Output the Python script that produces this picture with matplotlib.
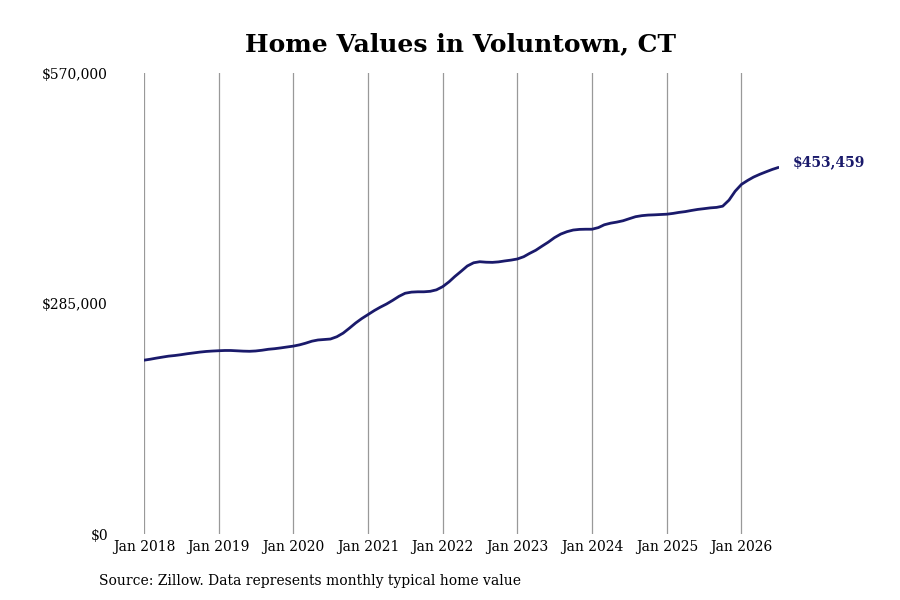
import matplotlib
matplotlib.use("Agg")
import matplotlib.pyplot as plt
import numpy as np
import pandas as pd

# typical home value, monthly, Jan 2018 .. Jul 2026 (in $1000)
start = "2018-01-01"
values_k = [
    215.0, 216.2, 217.5, 218.8, 220.0, 220.8, 221.8, 223.0, 224.0, 225.0, 225.8, 226.3,
    226.7, 227.0, 227.0, 226.6, 226.2, 226.0, 226.4, 227.3, 228.5, 229.2, 230.2, 231.3,
    232.4, 234.0, 236.0, 238.5, 240.0, 240.6, 241.2, 244.0, 248.5, 254.5, 261.0, 266.5,
    271.5, 276.5, 280.5, 284.5, 289.0, 294.0, 297.8, 299.2, 299.6, 299.6, 300.2, 302.0,
    306.0, 312.0, 318.5, 325.0, 331.5, 335.5, 336.8, 336.2, 336.0, 336.6, 337.8, 338.8,
    340.2, 343.0, 347.0, 351.0, 356.0, 361.0, 366.5, 371.0, 374.0, 376.0, 376.8, 377.0,
    377.0, 379.0, 382.5, 384.5, 385.8, 387.5, 390.0, 392.5, 393.8, 394.5, 394.8, 395.2,
    395.6, 396.6, 397.8, 398.8, 400.2, 401.5, 402.4, 403.4, 404.0, 405.5, 413.0, 424.0,
    432.5, 437.5, 441.5, 445.0, 448.0, 451.0, 453.459,
]
tick_years = list(range(2018, 2027))
y_ticks = [0, 285000, 570000]
title = "Home Values in Voluntown, CT"
source = "Source: Zillow. Data represents monthly typical home value"

dates = pd.date_range(start, periods=len(values_k), freq="MS")
values = np.array(values_k) * 1000

plt.rcParams["font.family"] = ["DejaVu Serif"]
line_color = "#1a1a6b"

fig = plt.figure(figsize=(9, 6), dpi=100)
ax = fig.add_axes([0.16, 0.11, 0.705, 0.768])

ax.plot(dates, values, color=line_color, linewidth=2.0, solid_capstyle="round")

ax.set_xlim(dates[0], dates[-1])
ax.set_ylim(0, 570000)

ticks = [pd.Timestamp(f"{y}-01-01") for y in tick_years]
ax.set_xticks(ticks)
ax.set_xticklabels([f"Jan {y}" for y in tick_years], fontsize=10)
ax.set_yticks(y_ticks)
ax.set_yticklabels([f"${v:,.0f}" for v in y_ticks], fontsize=10)
ax.tick_params(axis="x", length=0, pad=4)
ax.tick_params(axis="y", length=0, pad=26)
ax.grid(axis="x", color="#999999", linewidth=0.9)
ax.grid(axis="y", visible=False)
for s in ax.spines.values():
    s.set_visible(False)

last = values[-1]
ax.annotate(f"${last:,.0f}", xy=(dates[-1], last), xytext=(10, 4),
            textcoords="offset points", fontsize=10, fontweight="bold",
            color=line_color, va="center", ha="left", annotation_clip=False)

fig.text(0.512, 0.927, title, ha="center", va="center", fontsize=18, fontweight="bold")
fig.text(0.11, 0.032, source, ha="left", va="center", fontsize=10)

fig.savefig("out.png", dpi=100)
